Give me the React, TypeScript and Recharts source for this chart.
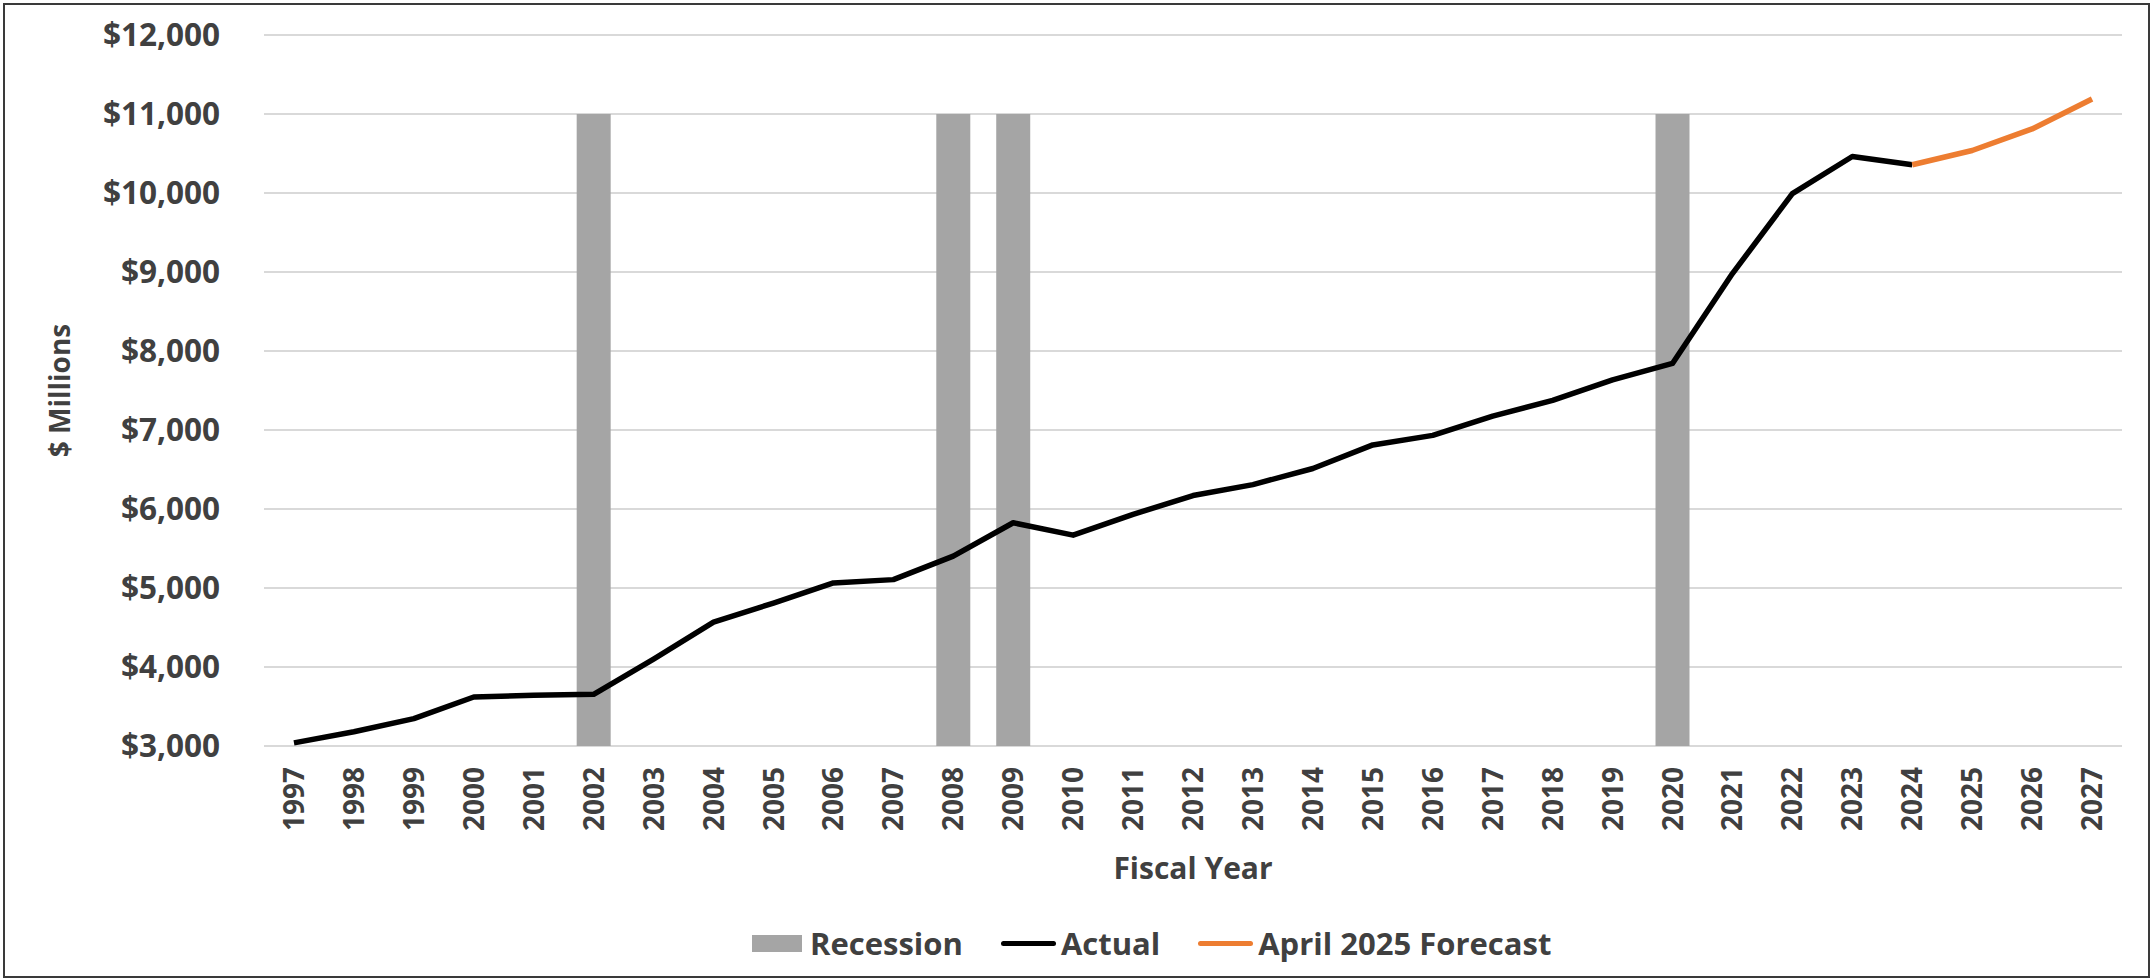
import React from 'react';
import { ComposedChart, Bar, Line, XAxis, YAxis, CartesianGrid, Legend } from 'recharts';

const years = ['1997','1998','1999','2000','2001','2002','2003','2004','2005','2006','2007','2008','2009','2010','2011','2012','2013','2014','2015','2016','2017','2018','2019','2020','2021','2022','2023','2024','2025','2026','2027'];
const actual: (number | null)[] = [3040,3180,3346,3620,3641,3654,4100,4568,4809,5064,5106,5403,5826,5669,5932,6170,6309,6513,6811,6932,7176,7376,7634,7843,8980,9992,10462,10357,null,null,null];
const forecast: (number | null)[] = [null,null,null,null,null,null,null,null,null,null,null,null,null,null,null,null,null,null,null,null,null,null,null,null,null,null,null,10357,10538,10811,11189];
const recessionYears = ['2002','2008','2009','2020'];
const recessionTop = 11000;
const yTicks = [3000,4000,5000,6000,7000,8000,9000,10000,11000,12000];

const data = years.map((y, i) => ({
  year: y,
  recession: recessionYears.includes(y) ? recessionTop : null,
  actual: actual[i],
  forecast: forecast[i],
}));

const FONT = '"Open Sans", "Noto Sans", sans-serif';
const TEXT = '#404040';

const XTick = (props: any) => {
  const { x, y, payload } = props;
  return (
    <text x={x} y={y} dy="0.36em" transform={`rotate(-90 ${x} ${y})`} textAnchor="end"
      fill={TEXT} fontSize={28} fontWeight={700} fontFamily={FONT}>{payload.value}</text>
  );
};

const YTitle = (props: any) => {
  const vb = props.viewBox || { x: 0, y: 0, width: 0, height: 0 };
  const cx = vb.x + 60;
  const cy = vb.y + vb.height / 2;
  return (
    <text x={cx} y={cy} dy="0.36em" transform={`rotate(-90 ${cx} ${cy})`} textAnchor="middle"
      fill={TEXT} fontSize={28} fontWeight={700} fontFamily={FONT}>$ Millions</text>
  );
};

const legendItems = [
  { name: 'Recession', color: '#a5a5a5', kind: 'box' },
  { name: 'Actual', color: '#000000', kind: 'line' },
  { name: 'April 2025 Forecast', color: '#ED7D31', kind: 'line' },
];

const renderLegend = () => (
  <div style={{ display: 'flex', alignItems: 'center', fontFamily: FONT, fontWeight: 700, fontSize: 31, color: TEXT, lineHeight: '40px', whiteSpace: 'nowrap' }}>
    {legendItems.map((it, i) => (
      <div key={it.name} style={{ display: 'flex', alignItems: 'center', marginRight: i < legendItems.length - 1 ? 38 : 0 }}>
        {it.kind === 'box' ? (
          <div style={{ width: 50, height: 17, background: it.color, marginRight: 8 }} />
        ) : (
          <div style={{ width: 55, height: 5, borderRadius: 3, background: it.color, marginRight: 5 }} />
        )}
        <span>{it.name}</span>
      </div>
    ))}
  </div>
);

export default function App() {
  return (
    <div style={{ position: 'absolute', left: 0, top: 0, width: 2151, height: 980, background: '#fff' }}>
      <div style={{ position: 'absolute', left: 3, top: 3, width: 2143, height: 971, border: '2px solid #3a3a3a', pointerEvents: 'none' }} />
      <ComposedChart width={2151} height={980} data={data} margin={{ top: 35, right: 29, bottom: 134, left: 0 }} barCategoryGap={0}>
        <CartesianGrid vertical={false} stroke="#d9d9d9" strokeWidth={2} />
        <XAxis dataKey="year" axisLine={false} tickLine={false} tickSize={0} tickMargin={21} height={100} interval={0}
          tick={<XTick />}
          label={{ value: 'Fiscal Year', position: 'bottom', offset: 12, fill: TEXT, fontSize: 30, fontWeight: 700, fontFamily: FONT }} />
        <YAxis width={264} domain={[3000, 12000]} ticks={yTicks} axisLine={false} tickLine={false} tickSize={0} tickMargin={44}
          interval={0} allowDataOverflow
          tickFormatter={(v: number) => '$' + v.toLocaleString('en-US')}
          tick={{ fill: TEXT, fontSize: 31.5, fontWeight: 700, fontFamily: FONT }}
          label={<YTitle />} />
        <Legend layout="horizontal" verticalAlign="middle" align="center" content={renderLegend}
          wrapperStyle={{ position: 'absolute', left: 752, top: 923, width: 'auto' }} />
        <Bar dataKey="recession" name="Recession" fill="#a5a5a5" barSize={34} isAnimationActive={false} />
        <Line dataKey="actual" name="Actual" type="linear" stroke="#000000" strokeWidth={5.5} dot={false} strokeLinejoin="round" connectNulls={false} isAnimationActive={false} />
        <Line dataKey="forecast" name="April 2025 Forecast" type="linear" stroke="#ED7D31" strokeWidth={5.5} dot={false} strokeLinejoin="round" isAnimationActive={false} />
      </ComposedChart>
    </div>
  );
}
